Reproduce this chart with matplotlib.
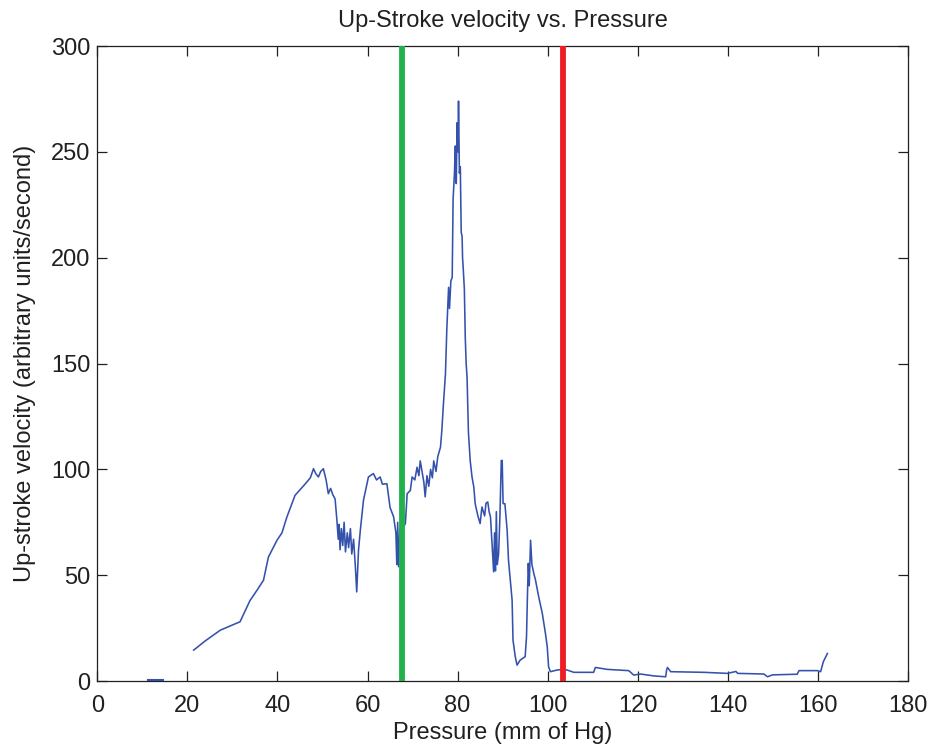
import matplotlib
matplotlib.use("Agg")
import matplotlib.pyplot as plt
import numpy as np

plt.rcParams['font.family'] = ['Liberation Sans', 'DejaVu Sans']

# Main trace: pressure (mm Hg) vs. up-stroke velocity
pressure = [21.4, 24, 27.3, 31.7, 33.9, 35.5, 36.9, 38, 39.9, 41, 42.1, 43.9, 46.2, 47.3, 48, 48.5,
            49.1, 49.6, 50.2, 50.8, 51.3, 51.8, 52.3, 52.8, 53.2, 53.5, 53.7, 53.9, 54.2, 54.5, 54.8,
            55.1, 55.5, 55.8, 56.2, 56.5, 56.9, 57.3, 57.6, 58, 58.4, 59.1, 60.2, 61.3, 62, 62.8, 63.3,
            64.3, 65, 65.8, 66.3, 66.5, 66.7, 66.9, 67.2, 68, 68.4, 68.8, 69.5, 69.9, 70.5, 71, 71.4,
            71.7, 72.1, 72.5, 72.8, 73.2, 73.6, 74, 74.4, 74.7, 75.2, 75.6, 76.2, 76.5, 76.9, 77.3,
            77.6, 78, 78.2, 78.5, 78.8, 79, 79.3, 79.5, 79.7, 79.9, 80.1, 80.2, 80.4, 80.6, 80.8, 81,
            81.1, 81.3, 81.5, 81.7, 81.9, 82.1, 82.4, 82.8, 83.2, 83.6, 83.9, 84.5, 85, 85.4, 86, 86.3,
            86.7, 87, 87.3, 87.6, 88, 88.2, 88.4, 88.6, 88.8, 89.1, 89.4, 89.7, 89.9, 90.1, 90.5, 91,
            91.3, 91.7, 92.1, 92.3, 92.8, 93.2, 93.9, 95, 95.3, 95.5, 95.7, 95.9, 96.2, 96.5, 96.9,
            97.3, 98, 98.8, 99.5, 99.9, 100.2, 100.6, 102.1, 103.5, 104.3, 105.8, 110.2, 110.6, 113.2,
            118, 119.1, 120.6, 123.6, 126.2, 126.4, 126.6, 127.3, 134.7, 139.9, 141.8, 142.2, 148,
            148.8, 149.9, 155.4, 155.8, 159.9, 160.6, 161.2, 162.1]
velocity = [14.6, 19, 24, 28, 38, 43, 47.6, 58.6, 66.5, 70, 77.5, 87.7, 93.2, 96, 100.3, 98,
            96.4, 99, 100.3, 95, 88.5, 91, 88, 86, 76, 67, 74, 62, 72, 64, 75,
            61, 70, 63, 72, 60, 67, 54, 42.1, 61.8, 71.2, 85.4, 96.4, 98, 95, 96.4, 93,
            93.2, 82, 77.5, 70, 55, 75, 54, 72, 72.8, 74.4, 88.5, 90, 96.4, 95, 101, 97,
            104, 99, 94, 87, 97, 92, 100, 96, 104, 99, 106, 110.5, 118.4, 132.5, 145,
            166, 186, 176, 189, 190.7, 227.7, 240, 252.8, 235, 263.8, 250, 274, 240, 243, 212, 210,
            200, 193, 185, 162.4, 150, 143.5, 117.6, 104, 96.4, 91.6, 83.8, 78, 74.4, 82.2, 78, 84,
            84.6, 80, 77.5, 66.5, 51.6, 70, 52, 80, 55, 60, 78, 104.2, 104.2, 83.8, 83.8, 71.2,
            57, 47.6, 38.2, 19.3, 11.5, 7.5, 9.9, 11.5, 21, 40, 55.6, 45, 66.5, 55, 51,
            47.6, 39.8, 32, 22.5, 16.2, 6.7, 4.4, 5.2, 5.5, 5.2, 4.1, 4.1, 6.4, 5.5,
            4.9, 2.8, 3.3, 2.4, 2, 5.2, 6.4, 4.4, 4.1, 3.6, 4.5, 3.6, 3.3,
            2, 2.9, 3.2, 4.9, 4.9, 4.4, 9.1, 13]

# Short isolated segment near the origin
seg_pressure = [11.3, 14.5]
seg_velocity = [0.4, 0.4]

# Vertical marker lines
green_x = 67.6
red_x = 103.3

xticks = [0, 20, 40, 60, 80, 100, 120, 140, 160, 180]
yticks = [0, 50, 100, 150, 200, 250, 300]

fig = plt.figure(figsize=(9.31, 7.51), dpi=100)
ax = fig.add_axes([0.1045, 0.0932, 0.8708, 0.8455])

line_color = '#3452ad'
ax.plot(pressure, velocity, color=line_color, lw=1.15, zorder=3)
ax.plot(seg_pressure, seg_velocity, color=line_color, lw=1.5, zorder=3)
ax.axvline(green_x, color='#22b24c', lw=4.2, zorder=4)
ax.axvline(red_x, color='#ee1c25', lw=4.2, zorder=4)

ax.set_xlim(0, 180)
ax.set_ylim(0, 300)
ax.set_xticks(xticks)
ax.set_yticks(yticks)
ax.tick_params(direction='in', length=7, width=0.9, top=True, right=True,
               labelsize=17, colors='#202020')
ax.tick_params(axis='x', pad=10)
ax.tick_params(axis='y', pad=5)
for s in ax.spines.values():
    s.set_linewidth(0.9)
    s.set_color('#202020')

ax.set_title('Up-Stroke velocity vs. Pressure', fontsize=17, color='#202020', pad=14)
ax.set_xlabel('Pressure (mm of Hg)', fontsize=17, color='#202020', labelpad=4)
ax.set_ylabel('Up-stroke velocity (arbitrary units/second)', fontsize=17, color='#202020', labelpad=11)

fig.savefig('out.png', dpi=100)
